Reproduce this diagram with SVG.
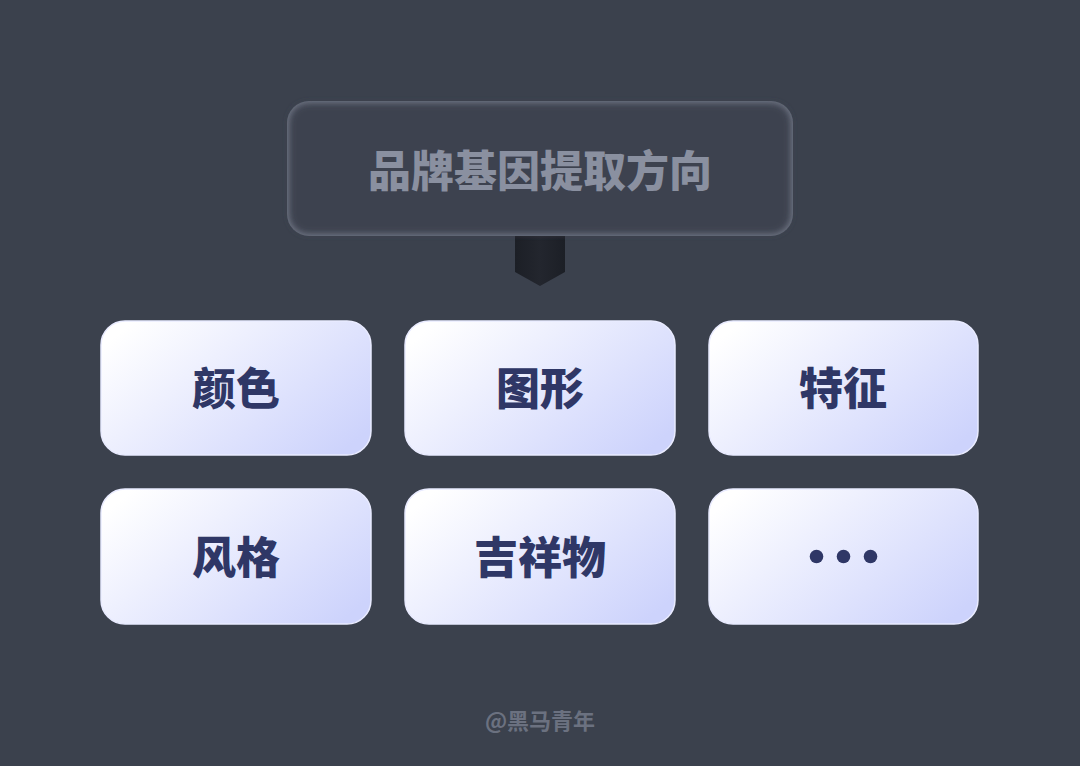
<svg xmlns="http://www.w3.org/2000/svg" width="1080" height="766" viewBox="0 0 1080 766">
<style>
.t{font-family:"Noto Sans CJK SC","Noto Sans",sans-serif;font-weight:900;text-anchor:middle;dominant-baseline:central}
.card{fill:url(#cg);stroke:#e9ebff;stroke-width:1.5}
.lbl{font-size:44px;fill:#2f3766}
</style>
<defs>
<linearGradient id="cg" x1="0" y1="0.2" x2="1" y2="0.8">
<stop offset="0" stop-color="#ffffff"/>
<stop offset="1" stop-color="#cdd3fc"/>
</linearGradient>
<filter id="ig" x="-5%" y="-5%" width="110%" height="110%">
<feGaussianBlur stdDeviation="3"/>
</filter>
<linearGradient id="pg" x1="0" y1="0" x2="1" y2="0">
<stop offset="0" stop-color="#1c1f26"/>
<stop offset="0.5" stop-color="#23262e"/>
<stop offset="1" stop-color="#1c1f26"/>
</linearGradient>
</defs>
<rect width="1080" height="766" fill="#3b414d"/>
<g id="connectors">
<path d="M515 236 H565 V272 L540 286 L515 272 Z" fill="url(#pg)"/>
</g>
<g id="root">
<rect x="287" y="101" width="506" height="135" rx="22" fill="#6f7584"/>
<rect x="289" y="103" width="502" height="131" rx="20" fill="#3d4350" filter="url(#ig)"/>
<text class="t" x="540" y="168" font-size="43" fill="#8a90a0">品牌基因提取方向</text>
</g>
<g id="n1"><rect class="card" x="101" y="321" width="270" height="134" rx="24"/><text class="t lbl" x="236" y="386">颜色</text></g>
<g id="n2"><rect class="card" x="405" y="321" width="270" height="134" rx="24"/><text class="t lbl" x="540" y="386">图形</text></g>
<g id="n3"><rect class="card" x="709" y="321" width="269" height="134" rx="24"/><text class="t lbl" x="843" y="386">特征</text></g>
<g id="n4"><rect class="card" x="101" y="489" width="270" height="135" rx="24"/><text class="t lbl" x="236" y="555">风格</text></g>
<g id="n5"><rect class="card" x="405" y="489" width="270" height="135" rx="24"/><text class="t lbl" x="540" y="555">吉祥物</text></g>
<g id="n6"><rect class="card" x="709" y="489" width="269" height="135" rx="24"/>
<circle cx="816.5" cy="556.5" r="6.8" fill="#2f3766"/><circle cx="843.5" cy="556.5" r="6.8" fill="#2f3766"/><circle cx="870.5" cy="556.5" r="6.8" fill="#2f3766"/></g>
<text class="t" x="540" y="719" font-size="22" style="font-weight:700" fill="#6b7180">@黑马青年</text>
</svg>
